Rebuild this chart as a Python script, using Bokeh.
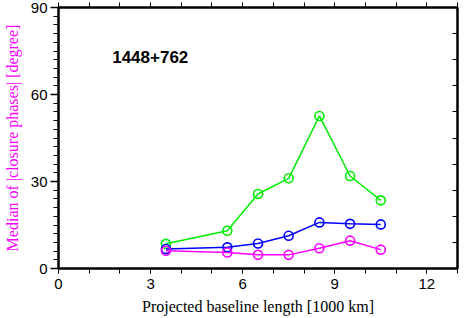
from bokeh.plotting import figure
from bokeh.models import LinearAxis, FixedTicker, Range1d, Label
from bokeh.embed import file_html
from bokeh.resources import INLINE

baseline = [3.5, 5.5, 6.5, 7.5, 8.5, 9.5, 10.5]
green_vals = [8.5, 13.0, 25.7, 31.1, 52.6, 31.9, 23.5]
blue_vals = [6.7, 7.3, 8.6, 11.3, 15.9, 15.4, 15.2]
magenta_vals = [6.1, 5.5, 4.7, 4.7, 7.0, 9.6, 6.5]
x_labels_ticks = [0, 3, 6, 9, 12]
y_labels_ticks = [0, 30, 60, 90]
source_name = "1448+762"

p = figure(width=459, height=318, output_backend="svg", toolbar_location=None,
           x_range=Range1d(0, 13), y_range=Range1d(0, 90),
           x_axis_location=None, y_axis_location=None,
           min_border_left=56, min_border_right=2, min_border_top=7, min_border_bottom=50)
p.grid.visible = False
p.outline_line_color = "black"
p.outline_line_width = 2
p.background_fill_color = "white"
p.border_fill_color = "white"

tick_font = "Liberation Sans"

left = LinearAxis(ticker=FixedTicker(ticks=y_labels_ticks, minor_ticks=list(range(0, 91, 3))))
left.axis_line_width = 2
left.major_tick_out = 8
left.major_tick_in = 0
left.minor_tick_out = 5
left.minor_tick_in = 0
left.major_tick_line_width = 1.5
left.minor_tick_line_width = 1
left.major_label_text_font = tick_font
left.major_label_text_font_size = "15px"
left.major_label_text_color = "black"
left.major_label_standoff = 3
left.axis_label = "Median of |closure phases| [degree]"
left.axis_label_text_font = "Liberation Serif"
left.axis_label_text_font_style = "normal"
left.axis_label_text_font_size = "16px"
left.axis_label_text_color = "#ff00ff"
left.axis_label_standoff = 7
p.add_layout(left, "left")

bottom = LinearAxis(ticker=FixedTicker(ticks=x_labels_ticks, minor_ticks=list(range(0, 14))))
bottom.axis_line_width = 2
bottom.major_tick_out = 5
bottom.major_tick_in = 0
bottom.minor_tick_out = 5
bottom.minor_tick_in = 0
bottom.major_tick_line_width = 1
bottom.minor_tick_line_width = 1
bottom.major_label_text_font = tick_font
bottom.major_label_text_font_size = "15px"
bottom.major_label_text_color = "black"
bottom.major_label_standoff = 5
bottom.axis_label = "Projected baseline length [1000 km]"
bottom.axis_label_text_font = "Liberation Serif"
bottom.axis_label_text_font_style = "normal"
bottom.axis_label_text_font_size = "16px"
bottom.axis_label_text_color = "black"
bottom.axis_label_standoff = 6
p.add_layout(bottom, "below")

top = LinearAxis(ticker=FixedTicker(ticks=list(range(0, 14))))
top.axis_line_width = 2
top.major_tick_out = 5
top.major_tick_in = 0
top.major_tick_line_width = 1
top.major_label_text_font_size = "0px"
top.major_label_standoff = 0
top.major_label_text_alpha = 0
p.add_layout(top, "above")

right = LinearAxis(ticker=FixedTicker(ticks=list(range(0, 91, 9))))
right.axis_line_width = 2
right.major_tick_out = 0
right.major_tick_in = 5
right.major_tick_line_width = 1
right.major_label_text_font_size = "0px"
right.major_label_standoff = 0
right.major_label_text_alpha = 0
p.add_layout(right, "right")

for vals, col in [(green_vals, "#00ee00"), (blue_vals, "#0000ff"), (magenta_vals, "#ff00ff")]:
    p.line(baseline, vals, line_color=col, line_width=1.5)
    p.scatter(baseline, vals, marker="circle", size=9, fill_color=None,
              line_color=col, line_width=1.6)

p.add_layout(Label(x=1.75, y=72.9, text=source_name, text_font="Liberation Sans",
                   text_font_style="bold", text_font_size="17px", text_color="black",
                   text_baseline="alphabetic"))

open("out.html", "w").write(file_html(p, INLINE))
